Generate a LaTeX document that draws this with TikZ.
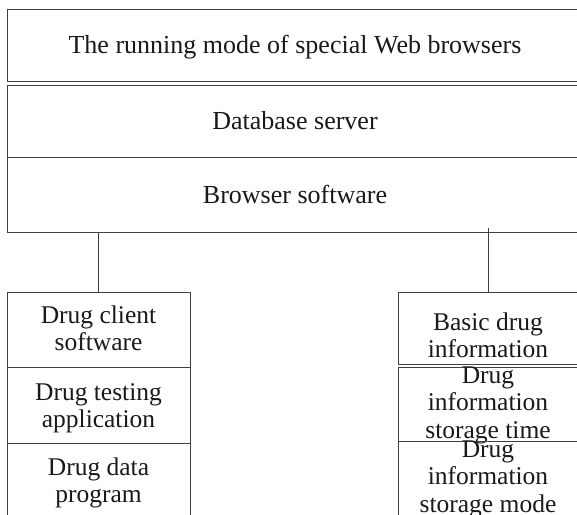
\documentclass[tikz,border=0pt]{standalone}
\usepackage{fontspec}
\setmainfont{Liberation Serif}
\newcommand\mystrut{\rule[-8pt]{0pt}{27.5pt}}
\begin{document}
\begin{tikzpicture}[x=1pt,y=-1pt,
  box/.style={draw=black!75,line width=0.9pt,rectangle,inner sep=0pt,align=center,text=black!90},
  big/.style={font=\fontsize{26}{28}\selectfont,text height=17pt,text depth=0pt},
  lbl/.style={font=\fontsize{25.5}{27.5}\selectfont,align=center,inner sep=0pt,text=black!90},
  conn/.style={draw=black!75,line width=0.9pt}]
\useasboundingbox (0,0) rectangle (577,514);
\clip (0,0) rectangle (577,514);
% top blocks
\node[box,big,minimum width=576pt,minimum height=72pt] (mode) at (295,45) {The running mode of special Web browsers};
\node[box,big,minimum width=576pt,minimum height=72pt] (db) at (295,121) {Database server};
\node[box,big,minimum width=576pt,minimum height=75pt] (bs) at (295,194.5) {Browser software};
% left column
\node[box,minimum width=183pt,minimum height=75pt] (l1) at (98.5,329.5) {};
\node[lbl] (l1t) at (98.5,331) {\mystrut Drug client\\software\mystrut};
\node[box,minimum width=183pt,minimum height=76pt] (l2) at (98.5,405) {};
\node[lbl] (l2t) at (98.5,408) {\mystrut Drug testing\\application\mystrut};
\node[box,minimum width=183pt,minimum height=72pt] (l3) at (98.5,479) {};
\node[lbl] (l3t) at (98.5,483) {\mystrut Drug data\\program\mystrut};
% right column
\node[box,minimum width=180pt,minimum height=72pt] (r1) at (488,328) {};
\node[lbl] (r1t) at (488,338) {\mystrut Basic drug\\information\mystrut};
\node[box,minimum width=180pt,minimum height=74pt] (r2) at (488,404) {};
\node[lbl] (r2t) at (488,404.75) {\mystrut Drug\\information\\storage time\mystrut};
\node[box,minimum width=180pt,minimum height=74pt] (r3) at (488,478) {};
\node[lbl] (r3t) at (488,478.75) {\mystrut Drug\\information\\storage mode\mystrut};
% connectors
\draw[conn] (bs.south -| l1.north) -- (l1.north);
\coordinate (rtop) at ([yshift=4pt]bs.south -| r1.north);
\draw[conn] (rtop) -- (r1.north);
\end{tikzpicture}
\end{document}
